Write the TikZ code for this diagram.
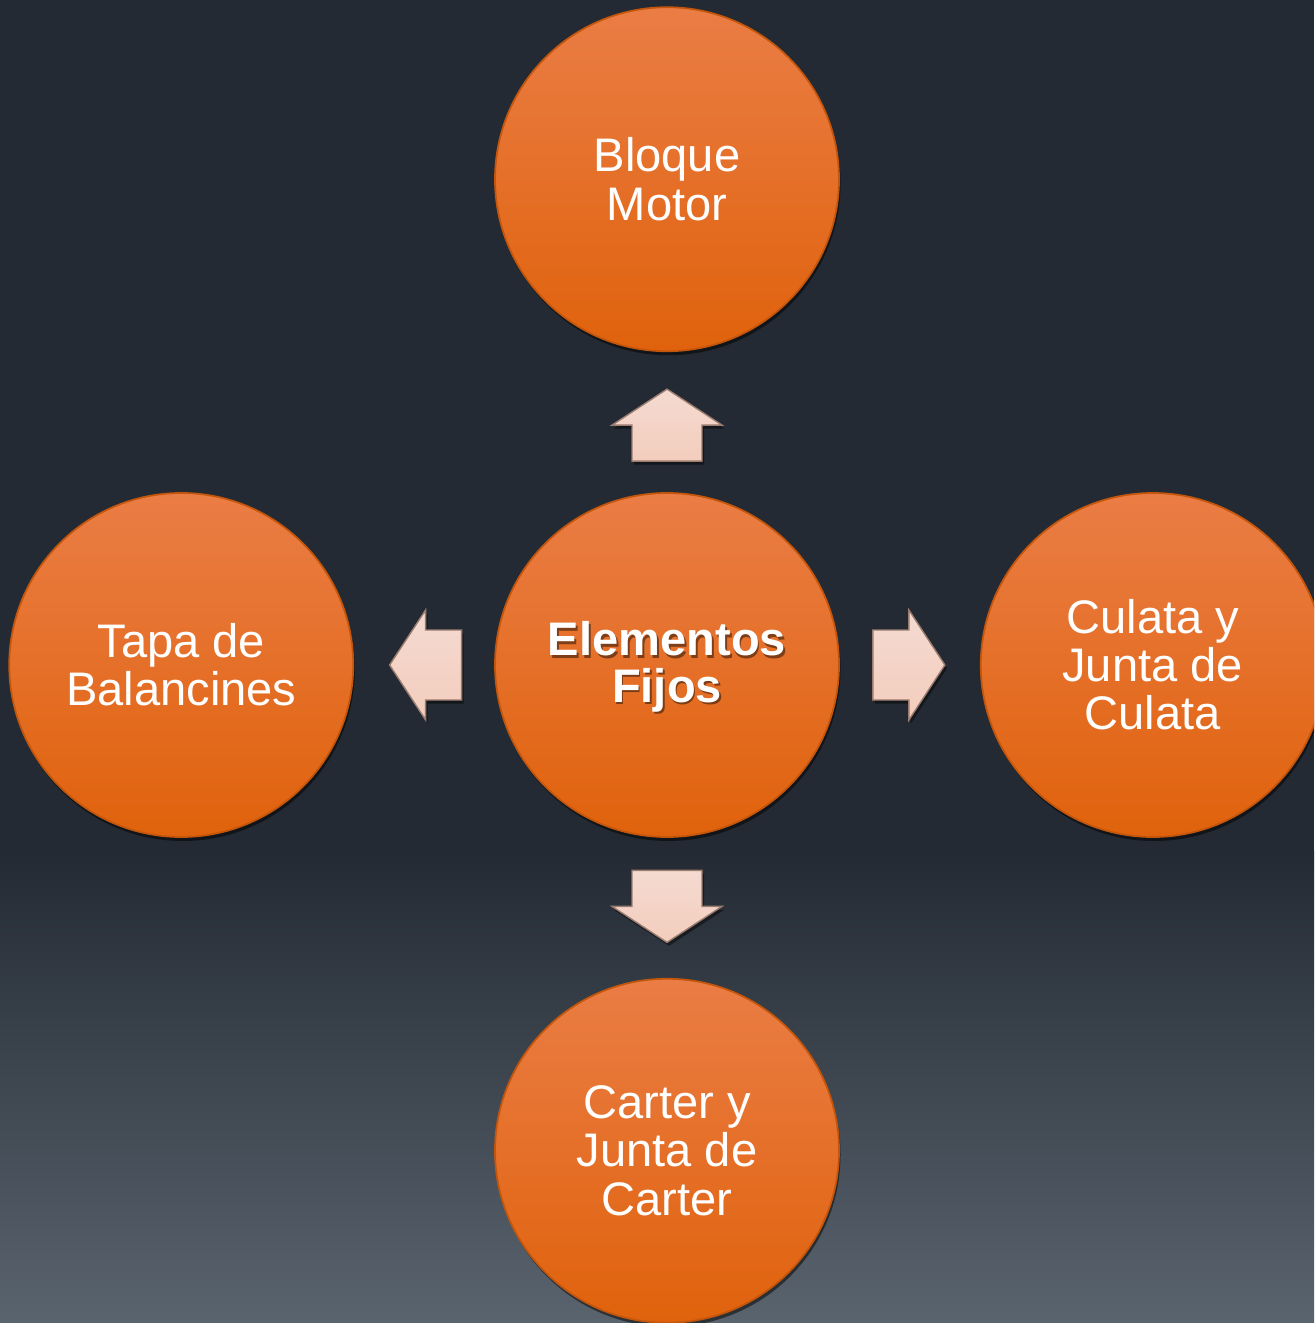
\documentclass[tikz,border=0pt]{standalone}
\usepackage{fontspec}
\setmainfont{Liberation Sans}
\usepackage{tikz}
\usetikzlibrary{
  positioning,
  calc,
  shadows
}
\definecolor{bgDark}{HTML}{232A33}
\definecolor{bgLight}{HTML}{5A646E}
\definecolor{naranjaTop}{HTML}{EA7D45}
\definecolor{naranjaMid}{HTML}{EA6D16}
\definecolor{naranjaBot}{HTML}{E0620C}
\definecolor{naranjaRim}{HTML}{C4560C}
\definecolor{rosa}{HTML}{F2D1C6}
\definecolor{rosaRim}{HTML}{9A7C70}

\tikzstyle{circulo}=[circle, minimum size=3.44cm, inner sep=0pt, align=center,
  top color=naranjaTop, middle color=naranjaMid, bottom color=naranjaBot,
  draw=naranjaRim, line width=0.5pt, text=white,
  drop shadow={shadow xshift=0.015cm, shadow yshift=-0.04cm, opacity=0.5, fill=black},
  font=\fontsize{13.4}{13.7}\selectfont]
\tikzstyle{flecha}=[top color=rosa!80!white, bottom color=rosa!95!orange,
  draw=rosaRim, line width=0.4pt,
  drop shadow={shadow xshift=0.02cm, shadow yshift=-0.035cm, opacity=0.45, fill=black}]

\begin{document}
\begin{tikzpicture}[node distance=1.40cm]
      % 背景
      \clip (0,0) rectangle (13.14,-13.23);
      \fill[bgDark] (0,0) rectangle (13.14,-13.23);
      \shade[top color=bgDark, bottom color=bgLight] (0,-8.5) rectangle (13.14,-13.23);

      % 円
      \node[circulo] (fijos) at (6.67,-6.65) {};
      \node[circulo, above=of fijos] (bloque) {Bloque\\Motor};
      \node[circulo, left=of fijos] (tapa) {Tapa de\\Balancines};
      \node[circulo, right=of fijos] (culata) {Culata y\\Junta de\\Culata};
      \node[circulo, below=of fijos] (carter) {Carter y\\Junta de\\Carter};

      % 中心の文字（影つき）
      \node[align=center, text=black, opacity=0.45, font=\fontsize{13.4}{13.2}\selectfont\bfseries]
        at ($(fijos)+(0.018,-0.045)$) {Elementos\\Fijos};
      \node[align=center, text=white, font=\fontsize{13.4}{13.2}\selectfont\bfseries]
        at ($(fijos)+(0,-0.02)$) {Elementos\\Fijos};

      % 矢印の形
      \def\flechapath{(-0.36,-0.35) -- (0,-0.35) -- (0,-0.55) -- (0.36,0)
        -- (0,0.55) -- (0,0.35) -- (-0.36,0.35) -- cycle}

      % 上向きの矢印
      \begin{scope}[shift={($(fijos.north)!0.5!(bloque.south)+(0,-0.03)$)}, rotate=90]
        \draw[flecha] \flechapath;
      \end{scope}
      % 左向きの矢印
      \begin{scope}[shift={($(fijos.west)!0.5!(tapa.east)+(0.015,0)$)}, rotate=180]
        \draw[flecha] \flechapath;
      \end{scope}
      % 右向きの矢印
      \begin{scope}[shift={($(fijos.east)!0.5!(culata.west)+(-0.01,0)$)}]
        \draw[flecha] \flechapath;
      \end{scope}
      % 下向きの矢印
      \begin{scope}[shift={($(fijos.south)!0.5!(carter.north)+(0,0.015)$)}, rotate=-90]
        \draw[flecha] \flechapath;
      \end{scope}
\end{tikzpicture}
\end{document}
